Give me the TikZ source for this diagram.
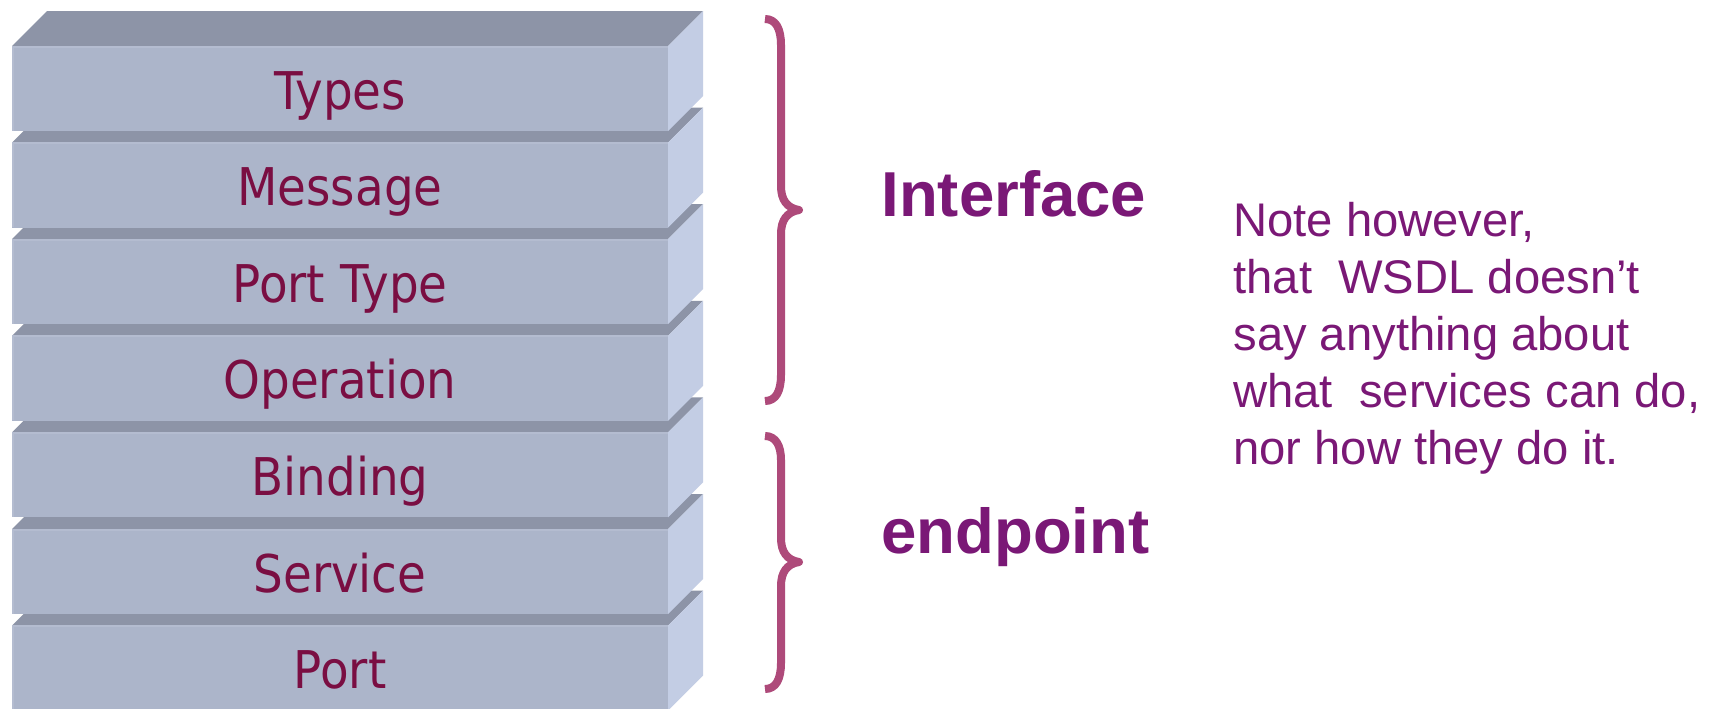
\documentclass[tikz,border=0pt]{standalone}
\usepackage{fontspec}
\setmainfont{Liberation Sans}
\newfontfamily\layerfont[FakeStretch=0.9]{DejaVu Sans}
\definecolor{topface}{RGB}{141,148,167}
\definecolor{frontface}{RGB}{172,181,202}
\definecolor{frontedge}{RGB}{180,188,208}
\definecolor{sideface}{RGB}{195,205,228}
\definecolor{layertext}{RGB}{122,14,66}
\definecolor{bracecol}{RGB}{174,74,122}
\definecolor{notecol}{RGB}{122,24,118}
\begin{document}
\begin{tikzpicture}[x=0.5pt,y=-0.5pt,
  layer label/.style={font=\layerfont\fontsize{26}{31}\selectfont, text=layertext, inner sep=0pt, anchor=base},
  group label/.style={font=\bfseries\fontsize{31.75}{38}\selectfont, text=notecol, inner sep=0pt, anchor=base west},
  note/.style={font=\fontsize{23.6}{28.6}\selectfont, text=notecol, inner sep=0pt, anchor=base west},
  brace/.style={draw=bracecol, line width=4pt, line cap=butt, line join=round}]
\useasboundingbox (0,0) rectangle (1709,708);
\fill[white] (0,0) rectangle (1709,708);

% stacked layers, drawn from the bottom up so upper boxes sit in front
\foreach \i/\name/\lbl in {6/port/Port, 5/service/Service, 4/binding/Binding,
    3/operation/Operation, 2/porttype/Port Type, 1/message/Message, 0/types/Types} {
  \pgfmathsetmacro\t{46+96.6*\i}
  \fill[topface] (12,\t) -- (47,\t-35) -- (703,\t-35) -- (668,\t) -- cycle;
  \fill[sideface] (668,\t) -- (703,\t-35) -- (703,\t+50) -- (668,\t+85) -- cycle;
  \fill[frontface] (12,\t) rectangle (668,\t+85);
  \draw[frontedge, line width=1pt] (12.5,\t+84.5) -- (12.5,\t+0.5) -- (667.5,\t+0.5);
  \node[layer label] (\name) at (340,\t+63) {\lbl};
}

% braces grouping the layers
\draw[brace] (765,19) .. controls (776,19) and (781,29) .. (781,45)
  -- (781,186) .. controls (781,200) and (787,208) .. (799,210)
  .. controls (787,212) and (781,220) .. (781,234)
  -- (781,375) .. controls (781,391) and (776,401) .. (765,401);
\draw[brace] (765,436) .. controls (776,436) and (781,446) .. (781,460)
  -- (781,538) .. controls (781,552) and (787,560) .. (799,562)
  .. controls (787,564) and (781,572) .. (781,586)
  -- (781,663) .. controls (781,679) and (776,689) .. (765,689);

\node[group label] (interface) at (881,216) {Interface};
\node[group label] (endpoint) at (881,553) {endpoint};

\node[note] (remark) at (1233,236) {\parbox[t]{470pt}{\raggedright
  Note however,\\
  that~ WSDL doesn’t\\
  say anything about\\
  what~ services can do,\\
  nor how they do it.}};
\end{tikzpicture}
\end{document}
